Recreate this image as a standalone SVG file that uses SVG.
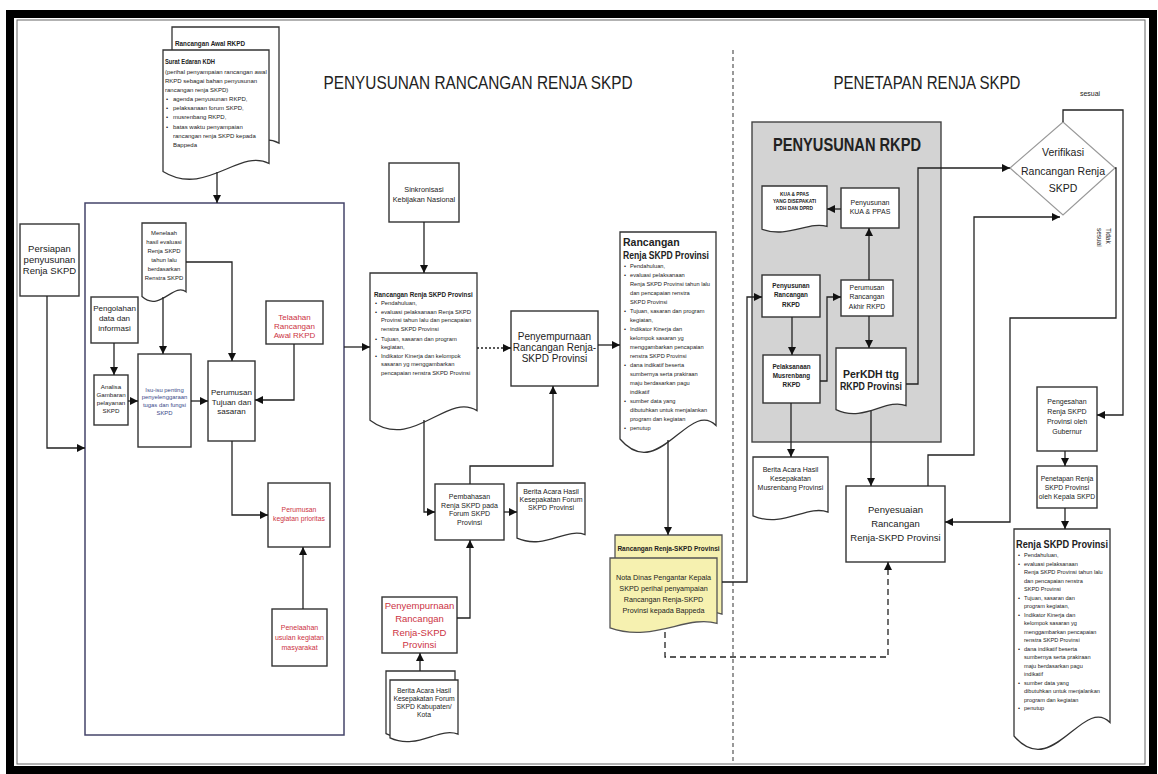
<svg xmlns="http://www.w3.org/2000/svg" xmlns:xlink="http://www.w3.org/1999/xlink" width="1158" height="774" viewBox="0 0 1158 774">
<style>
.bx{fill:#fff;stroke:#333;stroke-width:1.4}
.doc{fill:#fff;stroke:#333;stroke-width:1.3}
.yel{fill:#f6f1b0;stroke:#555;stroke-width:1.3}
.ln{fill:none;stroke:#222;stroke-width:1.3;marker-end:url(#ah)}
.t{font-family:"Liberation Sans",Arial,sans-serif;fill:#222;text-anchor:middle}
.l{text-anchor:start}
.red{fill:#cc3344}
.blu{fill:#3a4a8a}
.b{font-weight:bold}
</style>
<defs>
<marker id="ah" viewBox="0 0 10 10" refX="10" refY="5" markerWidth="8" markerHeight="8" markerUnits="userSpaceOnUse" orient="auto"><path d="M0,0 L10,5 L0,10 z" fill="#111"/></marker>
<symbol id="docshape" viewBox="0 0 100 100" preserveAspectRatio="none" overflow="visible"><path d="M0,0 H100 V86 C72,74 40,112 0,92 Z" vector-effect="non-scaling-stroke"/></symbol>
</defs>
<rect width="1158" height="774" fill="#fff"/>
<rect x="10" y="14" width="1143" height="756" fill="none" stroke="#000" stroke-width="8"/>
<rect x="17" y="20" width="1128" height="744" fill="none" stroke="#666" stroke-width="1"/>
<line x1="733" y1="50" x2="733" y2="764" stroke="#555" stroke-width="1.2" stroke-dasharray="4,3"/>

<g id="titles">
<text class="t" x="478" y="89" font-size="19" textLength="309" lengthAdjust="spacingAndGlyphs">PENYUSUNAN RANCANGAN RENJA SKPD</text>
<text class="t" x="927" y="89" font-size="19" textLength="187" lengthAdjust="spacingAndGlyphs">PENETAPAN RENJA SKPD</text>
<text class="t" x="1090" y="96" font-size="7">sesuai</text>
<text class="t l" font-size="6.5" transform="translate(1104,228) rotate(90)"><tspan x="0" y="-2">Tidak</tspan><tspan x="0" y="7">sesuai</tspan></text>
</g>

<g id="bigbox"><rect x="85" y="203" width="259" height="532" fill="none" stroke="#44446a" stroke-width="1.5"/></g>

<g id="rancangan-awal">
<use href="#docshape" x="172" y="27" width="107" height="135" class="doc"/>
<text class="t l b" x="175" y="46" font-size="7" textLength="70" lengthAdjust="spacingAndGlyphs">Rancangan Awal RKPD</text>
</g>
<g id="surat-edaran">
<use href="#docshape" x="163" y="50" width="106" height="132" class="doc"/>
<text class="t l b" x="165" y="64" font-size="7.5" textLength="50" lengthAdjust="spacingAndGlyphs">Surat Edaran KDH</text>
<text class="t l" font-size="6"><tspan x="165" y="74">(perihal penyampaian rancangan awal</tspan><tspan x="165" y="83">RKPD sebagai bahan penyusunan</tspan><tspan x="165" y="92">rancangan renja SKPD)</tspan><tspan x="173" y="101">agenda penyusunan RKPD,</tspan><tspan x="173" y="110">pelaksanaan forum SKPD,</tspan><tspan x="173" y="119">musrenbang RKPD,</tspan><tspan x="173" y="129">batas waktu penyampaian</tspan><tspan x="173" y="138">rancangan renja SKPD kepada</tspan><tspan x="173" y="147">Bappeda</tspan></text>
<text class="t l" font-size="6"><tspan x="166" y="101">•</tspan><tspan x="166" y="110">•</tspan><tspan x="166" y="119">•</tspan><tspan x="166" y="129">•</tspan></text>
</g>

<g id="persiapan"><rect class="bx" x="20" y="224" width="59" height="72"/>
<text class="t" font-size="9.5"><tspan x="49.5" y="252">Persiapan</tspan><tspan x="49.5" y="263">penyusunan</tspan><tspan x="49.5" y="274">Renja SKPD</tspan></text></g>

<g id="pengolahan"><rect class="bx" x="91" y="297" width="47" height="46"/>
<text class="t" font-size="8"><tspan x="114.5" y="311">Pengolahan</tspan><tspan x="114.5" y="321">data dan</tspan><tspan x="114.5" y="331">informasi</tspan></text></g>

<g id="analisa"><rect class="bx" x="94" y="375" width="34" height="50"/>
<text class="t" font-size="6.2"><tspan x="111" y="389">Analisa</tspan><tspan x="111" y="397">Gambaran</tspan><tspan x="111" y="405">pelayanan</tspan><tspan x="111" y="413">SKPD</tspan></text></g>

<g id="menelaah"><use href="#docshape" x="142" y="223" width="44" height="80" class="doc"/>
<text class="t" font-size="5.9"><tspan x="164" y="235">Menelaah</tspan><tspan x="164" y="244">hasil evaluasi</tspan><tspan x="164" y="253">Renja SKPD</tspan><tspan x="164" y="262">tahun lalu</tspan><tspan x="164" y="271">berdasarkan</tspan><tspan x="164" y="280">Renstra SKPD</tspan></text></g>

<g id="isu"><rect class="bx" x="138" y="354" width="53" height="93"/>
<text class="t blu" font-size="5.9"><tspan x="164.5" y="392">Isu-isu penting</tspan><tspan x="164.5" y="399">penyelenggaraan</tspan><tspan x="164.5" y="407">tugas dan fungsi</tspan><tspan x="164.5" y="415">SKPD</tspan></text></g>

<g id="perumusan-tujuan"><rect class="bx" x="208" y="361" width="47" height="80"/>
<text class="t" font-size="8"><tspan x="231.5" y="395">Perumusan</tspan><tspan x="231.5" y="405">Tujuan dan</tspan><tspan x="231.5" y="414">sasaran</tspan></text></g>

<g id="telaahan"><rect class="bx" x="266" y="301" width="57" height="43"/>
<text class="t red" font-size="8"><tspan x="294.5" y="320">Telaahan</tspan><tspan x="294.5" y="329">Rancangan</tspan><tspan x="294.5" y="338">Awal RKPD</tspan></text></g>

<g id="kegiatan-prioritas"><rect class="bx" x="268" y="483" width="62" height="64"/>
<text class="t red" font-size="6.8"><tspan x="299" y="512">Perumusan</tspan><tspan x="299" y="521">kegiatan prioritas</tspan></text></g>

<g id="penelaahan"><rect class="bx" x="272" y="609" width="55" height="57"/>
<text class="t red" font-size="7"><tspan x="299.5" y="630">Penelaahan</tspan><tspan x="299.5" y="640">usulan kegiatan</tspan><tspan x="299.5" y="650">masyarakat</tspan></text></g>

<g id="sinkronisasi"><rect class="bx" x="389" y="163" width="70" height="59"/>
<text class="t" font-size="7.3"><tspan x="424" y="192">Sinkronisasi</tspan><tspan x="424" y="202">Kebijakan Nasional</tspan></text></g>

<g id="rancangan-renja-1"><use href="#docshape" x="370" y="273" width="107" height="160" class="doc"/>
<text class="t l b" x="374" y="297" font-size="6.3">Rancangan Renja SKPD Provinsi</text>
<text class="t l" font-size="5.8"><tspan x="381" y="305">Pendahuluan,</tspan><tspan x="381" y="314">evaluasi pelaksanaan Renja SKPD</tspan><tspan x="381" y="322">Provinsi tahun lalu dan pencapaian</tspan><tspan x="381" y="331">renstra SKPD Provinsi</tspan><tspan x="381" y="341">Tujuan, sasaran dan program</tspan><tspan x="381" y="349">kegiatan,</tspan><tspan x="381" y="358">Indikator Kinerja dan kelompok</tspan><tspan x="381" y="366">sasaran yg menggambarkan</tspan><tspan x="381" y="375">pencapaian renstra SKPD Provinsi</tspan></text>
<text class="t l" font-size="5.8"><tspan x="375" y="305">•</tspan><tspan x="375" y="314">•</tspan><tspan x="375" y="341">•</tspan><tspan x="375" y="358">•</tspan></text></g>

<g id="penyempurnaan"><rect class="bx" x="511" y="311" width="87" height="75"/>
<text class="t" font-size="10"><tspan x="554.5" y="340">Penyempurnaan</tspan><tspan x="554.5" y="351">Rancangan Renja-</tspan><tspan x="554.5" y="362">SKPD Provinsi</tspan></text></g>

<g id="pembahasan"><rect class="bx" x="435" y="484" width="69" height="56"/>
<text class="t" font-size="7"><tspan x="469.5" y="499">Pembahasan</tspan><tspan x="469.5" y="508">Renja SKPD pada</tspan><tspan x="469.5" y="516">Forum SKPD</tspan><tspan x="469.5" y="525">Provinsi</tspan></text></g>

<g id="berita-forum"><use href="#docshape" x="517" y="483" width="68" height="60" class="doc"/>
<text class="t" font-size="7"><tspan x="551" y="494">Berita Acara Hasil</tspan><tspan x="551" y="502">Kesepakatan Forum</tspan><tspan x="551" y="510">SKPD Provinsi</tspan></text></g>

<g id="penyempurnaan-red"><rect class="bx" x="382" y="597" width="75" height="56"/>
<text class="t red" font-size="9.5"><tspan x="419.5" y="609">Penyempurnaan</tspan><tspan x="419.5" y="622">Rancangan</tspan><tspan x="419.5" y="636">Renja-SKPD</tspan><tspan x="419.5" y="648">Provinsi</tspan></text></g>

<g id="berita-kab"><use href="#docshape" x="386" y="671" width="69" height="68" class="doc"/><use href="#docshape" x="390" y="680" width="68" height="63" class="doc"/>
<text class="t" font-size="6.8"><tspan x="424" y="693">Berita Acara Hasil</tspan><tspan x="424" y="701">Kesepakatan Forum</tspan><tspan x="424" y="709">SKPD Kabupaten/</tspan><tspan x="424" y="717">Kota</tspan></text></g>

<g id="rancangan-renja-2"><use href="#docshape" x="620" y="232" width="96" height="225" class="doc"/>
<text class="t l b" font-size="10.5"><tspan x="623" y="246">Rancangan</tspan><tspan x="623" y="259" textLength="86" lengthAdjust="spacingAndGlyphs">Renja SKPD Provinsi</tspan></text>
<text class="t l" font-size="5.7"><tspan x="630" y="268">Pendahuluan,</tspan><tspan x="630" y="277">evaluasi pelaksanaan</tspan><tspan x="630" y="286">Renja SKPD Provinsi tahun lalu</tspan><tspan x="630" y="295">dan pencapaian   renstra</tspan><tspan x="630" y="304">SKPD Provinsi</tspan><tspan x="630" y="313">Tujuan, sasaran dan program</tspan><tspan x="630" y="322">kegiatan,</tspan><tspan x="630" y="331">Indikator Kinerja dan</tspan><tspan x="630" y="340">kelompok sasaran yg</tspan><tspan x="630" y="349">menggambarkan pencapaian</tspan><tspan x="630" y="358">renstra SKPD Provinsi</tspan><tspan x="630" y="367">dana indikatif beserta</tspan><tspan x="630" y="376">sumbernya serta prakiraan</tspan><tspan x="630" y="385">maju berdasarkan pagu</tspan><tspan x="630" y="394">indikatif</tspan><tspan x="630" y="403">sumber data yang</tspan><tspan x="630" y="412">dibutuhkan untuk menjalankan</tspan><tspan x="630" y="421">program dan kegiatan</tspan><tspan x="630" y="430">penutup</tspan></text>
<text class="t l" font-size="5.7"><tspan x="624" y="268">•</tspan><tspan x="624" y="277">•</tspan><tspan x="624" y="313">•</tspan><tspan x="624" y="331">•</tspan><tspan x="624" y="367">•</tspan><tspan x="624" y="403">•</tspan><tspan x="624" y="430">•</tspan></text></g>

<g id="nota-dinas"><use href="#docshape" x="615" y="535" width="107" height="92" class="yel"/>
<text class="t b" x="668.5" y="551" font-size="6.5">Rancangan Renja-SKPD Provinsi</text>
<use href="#docshape" x="610" y="558" width="107" height="76" class="yel"/>
<text class="t" font-size="7.2"><tspan x="663.5" y="580">Nota Dinas Pengantar Kepala</tspan><tspan x="663.5" y="591">SKPD perihal penyampaian</tspan><tspan x="663.5" y="602">Rancangan Renja-SKPD</tspan><tspan x="663.5" y="613">Provinsi kepada Bappeda</tspan></text></g>

<g id="penyusunan-rkpd"><rect x="752" y="122" width="189" height="320" fill="#d3d3d3" stroke="#444" stroke-width="1.4"/>
<text class="t b" x="847" y="151" font-size="19" textLength="148" lengthAdjust="spacingAndGlyphs">PENYUSUNAN RKPD</text></g>

<g id="kua-doc"><use href="#docshape" x="762" y="186" width="65" height="47" class="doc"/>
<text class="t b" font-size="4.8"><tspan x="794.5" y="196">KUA &amp; PPAS</tspan><tspan x="794.5" y="203">YANG DISEPAKATI</tspan><tspan x="794.5" y="210">KDH DAN DPRD</tspan></text></g>

<g id="penyusunan-kua"><rect class="bx" x="841" y="188" width="58" height="40"/>
<text class="t" font-size="7"><tspan x="870" y="205">Penyusunan</tspan><tspan x="870" y="214">KUA &amp; PPAS</tspan></text></g>

<g id="penyusunan-rancangan-rkpd"><rect class="bx" x="762" y="275" width="58" height="42"/>
<text class="t b" font-size="6.3"><tspan x="791" y="288">Penyusunan</tspan><tspan x="791" y="297">Rancangan</tspan><tspan x="791" y="307">RKPD</tspan></text></g>

<g id="perumusan-akhir"><rect class="bx" x="841" y="280" width="52" height="36"/>
<text class="t" font-size="6.8"><tspan x="867" y="290">Perumusan</tspan><tspan x="867" y="299">Rancangan</tspan><tspan x="867" y="309">Akhir RKPD</tspan></text></g>

<g id="pelaksanaan-musrenbang"><rect class="bx" x="763" y="355" width="57" height="48"/>
<text class="t b" font-size="6.3"><tspan x="791.5" y="369">Pelaksanaan</tspan><tspan x="791.5" y="378">Musrenbang</tspan><tspan x="791.5" y="387">RKPD</tspan></text></g>

<g id="perkdh"><use href="#docshape" x="836" y="348" width="70" height="67" class="doc"/>
<text class="t b" font-size="10.5"><tspan x="871" y="378" textLength="56" lengthAdjust="spacingAndGlyphs">PerKDH ttg</tspan><tspan x="871" y="390" textLength="62" lengthAdjust="spacingAndGlyphs">RKPD Provinsi</tspan></text></g>

<g id="berita-musrenbang"><use href="#docshape" x="753" y="457" width="75" height="64" class="doc"/>
<text class="t" font-size="7"><tspan x="790.5" y="472">Berita Acara Hasil</tspan><tspan x="790.5" y="481">Kesepakatan</tspan><tspan x="790.5" y="490">Musrenbang Provinsi</tspan></text></g>

<g id="penyesuaian"><rect class="bx" x="846" y="486" width="99" height="76"/>
<text class="t" font-size="9.5"><tspan x="895.5" y="513">Penyesuaian</tspan><tspan x="895.5" y="527">Rancangan</tspan><tspan x="895.5" y="541">Renja-SKPD Provinsi</tspan></text></g>

<g id="verifikasi"><polygon points="1010,168 1063,122 1115,168 1063,215" fill="#fff" stroke="#999" stroke-width="1.2"/>
<text class="t" font-size="10.5"><tspan x="1063" y="156">Verifikasi</tspan><tspan x="1063" y="175">Rancangan Renja</tspan><tspan x="1063" y="192">SKPD</tspan></text></g>

<g id="pengesahan"><rect class="bx" x="1037" y="387" width="60" height="64"/>
<text class="t" font-size="7"><tspan x="1067" y="404">Pengesahan</tspan><tspan x="1067" y="414">Renja SKPD</tspan><tspan x="1067" y="424">Provinsi oleh</tspan><tspan x="1067" y="434">Gubernur</tspan></text></g>

<g id="penetapan"><rect class="bx" x="1037" y="466" width="60" height="42"/>
<text class="t" font-size="6.8"><tspan x="1067" y="481">Penetapan Renja</tspan><tspan x="1067" y="490">SKPD Provinsi</tspan><tspan x="1067" y="499">oleh Kepala SKPD</tspan></text></g>

<g id="renja-final"><use href="#docshape" x="1014" y="529" width="96" height="225" class="doc"/>
<text class="t l b" x="1016" y="548" font-size="11" textLength="92" lengthAdjust="spacingAndGlyphs">Renja SKPD Provinsi</text>
<text class="t l" font-size="5.6"><tspan x="1024" y="557">Pendahuluan,</tspan><tspan x="1024" y="565.5">evaluasi pelaksanaan</tspan><tspan x="1024" y="574">Renja SKPD Provinsi tahun lalu</tspan><tspan x="1024" y="582.5">dan  pencapaian   renstra</tspan><tspan x="1024" y="591">SKPD Provinsi</tspan><tspan x="1024" y="599.5">Tujuan, sasaran dan</tspan><tspan x="1024" y="608">program kegiatan,</tspan><tspan x="1024" y="616.5">Indikator Kinerja dan</tspan><tspan x="1024" y="625">kelompok sasaran yg</tspan><tspan x="1024" y="633.5">menggambarkan pencapaian</tspan><tspan x="1024" y="642">renstra SKPD Provinsi</tspan><tspan x="1024" y="650.5">dana indikatif beserta</tspan><tspan x="1024" y="659">sumbernya serta prakiraan</tspan><tspan x="1024" y="667.5">maju berdasarkan pagu</tspan><tspan x="1024" y="676">indikatif</tspan><tspan x="1024" y="684.5">sumber data yang</tspan><tspan x="1024" y="693">dibutuhkan untuk menjalankan</tspan><tspan x="1024" y="701.5">program dan kegiatan</tspan><tspan x="1024" y="710">penutup</tspan></text>
<text class="t l" font-size="5.6"><tspan x="1018" y="557">•</tspan><tspan x="1018" y="565.5">•</tspan><tspan x="1018" y="599.5">•</tspan><tspan x="1018" y="616.5">•</tspan><tspan x="1018" y="650.5">•</tspan><tspan x="1018" y="684.5">•</tspan><tspan x="1018" y="710">•</tspan></text></g>

<g id="connectors">
<path class="ln" d="M217,172 V203"/>
<path class="ln" d="M47,296 V448 H85"/>
<path class="ln" d="M114,343 V375"/>
<path class="ln" d="M163,297 V354"/>
<path class="ln" d="M186,262 H232 V361"/>
<path class="ln" d="M128,401 H138"/>
<path class="ln" d="M191,401 H208"/>
<path class="ln" d="M294,344 V400 H255"/>
<path class="ln" d="M232,441 V515 H268"/>
<path class="ln" d="M303,609 V547"/>
<path class="ln" d="M344,347 H370"/>
<path class="ln" d="M424,222 V273"/>
<path class="ln" d="M477,348 H511" stroke-dasharray="2,2"/>
<path class="ln" d="M424,420 V512 H435"/>
<path class="ln" d="M470,484 V466 H553 V386"/>
<path class="ln" d="M504,512 H517"/>
<path class="ln" d="M457,618 H470 V540"/>
<path class="ln" d="M420,671 V653"/>
<path class="ln" d="M598,345 H620"/>
<path class="ln" d="M668,440 V535"/>
<path class="ln" d="M722,582 H747 V297 H762"/>
<path class="ln" d="M792,317 V355"/>
<path class="ln" d="M820,381 H827 V297 H841"/>
<path class="ln" d="M869,280 V228"/>
<path class="ln" d="M841,209 H827"/>
<path class="ln" d="M869,316 V348"/>
<path class="ln" d="M906,384 H918 V168 H1010"/>
<path class="ln" d="M791,403 V457"/>
<path class="ln" d="M871,411 V486"/>
<path class="ln" d="M928,486 V455 H974 V217 H1060"/>
<path class="ln" d="M1063,122 V110 H1123 V415 H1097"/>
<path class="ln" d="M1115,168 H1116 V318 H1010 V522 H945"/>
<path class="ln" d="M1065,451 V466"/>
<path class="ln" d="M1065,508 V529"/>
<path class="ln" d="M665,632 V657 H888 V562" stroke-dasharray="6,4"/>
</g>
</svg>
